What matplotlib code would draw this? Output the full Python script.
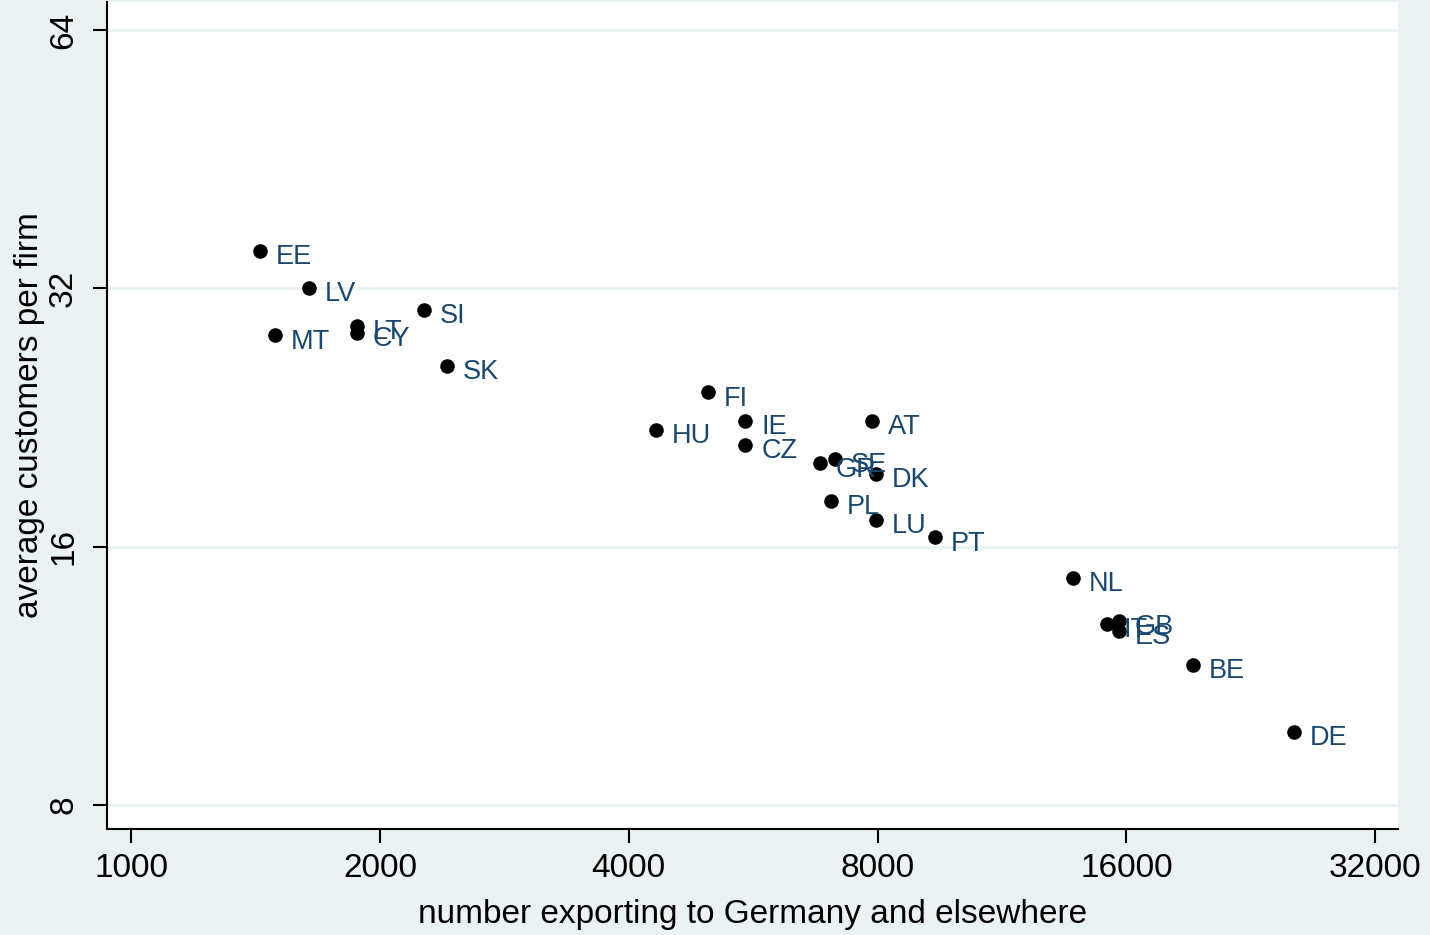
import matplotlib
matplotlib.use('Agg')
import matplotlib.pyplot as plt
from matplotlib.ticker import FixedLocator, NullLocator

plt.rcParams['font.family'] = ['Liberation Sans', 'DejaVu Sans']

countries = ['EE', 'LV', 'LT', 'CY', 'MT', 'SI', 'SK', 'FI', 'HU', 'IE', 'CZ', 'AT',
             'GR', 'SE', 'DK', 'PL', 'LU', 'PT', 'NL', 'IT', 'GB', 'ES', 'BE', 'DE']
n_exporting = [1432, 1642, 1877, 1877, 1494, 2262, 2412, 4990, 4317, 5533, 5533, 7880,
               6818, 7110, 7970, 7030, 7970, 9390, 13800, 15170, 15680, 15680, 19270, 25530]
avg_customers = [35.4, 32.0, 28.9, 28.4, 28.2, 30.2, 26.0, 24.2, 21.9, 22.4, 21.0, 22.4,
                 20.0, 20.25, 19.45, 18.1, 17.2, 16.4, 14.7, 13.0, 13.1, 12.76, 11.65, 9.73]

x_ticks = [1000, 2000, 4000, 8000, 16000, 32000]
y_ticks = [8, 16, 32, 64]

bg = '#eaf2f3'
navy = '#1a476f'

fig = plt.figure(figsize=(14.3, 9.35), dpi=100, facecolor=bg)
ax = fig.add_axes([0.0748, 0.1134, 0.9028, 0.8846])
ax.set_facecolor('white')

ax.set_xscale('log', base=2)
ax.set_yscale('log', base=2)
ax.set_xlim(935, 34100)
ax.set_ylim(7.5, 69.0)

# light horizontal grid, same tint as the outer background
for yt in y_ticks:
    ax.axhline(yt, color=bg, lw=2.2, zorder=1)

ax.scatter(n_exporting, avg_customers, s=110, color='black', zorder=3, linewidths=0)
for c, xv, yv in zip(countries, n_exporting, avg_customers):
    ax.annotate(c, (xv, yv), xytext=(11.5, -4.5), textcoords='offset points',
                ha='left', va='center', fontsize=19.5, color=navy, zorder=4)

ax.xaxis.set_major_locator(FixedLocator(x_ticks))
ax.yaxis.set_major_locator(FixedLocator(y_ticks))
ax.xaxis.set_minor_locator(NullLocator())
ax.yaxis.set_minor_locator(NullLocator())
ax.set_xticklabels([str(v) for v in x_ticks])
ax.set_yticklabels([str(v) for v in y_ticks], rotation=90, va='center')
ax.tick_params(axis='both', length=10, width=1.5, labelsize=24, direction='out')
ax.tick_params(axis='x', pad=7)
ax.tick_params(axis='y', pad=10)

for side in ['top', 'right']:
    ax.spines[side].set_visible(False)
for side in ['left', 'bottom']:
    ax.spines[side].set_linewidth(1.5)

ax.set_xlabel('number exporting to Germany and elsewhere', fontsize=24, labelpad=11)
ax.set_ylabel('average customers per firm', fontsize=24, labelpad=2)

fig.savefig('out.png', dpi=100, facecolor=bg)
